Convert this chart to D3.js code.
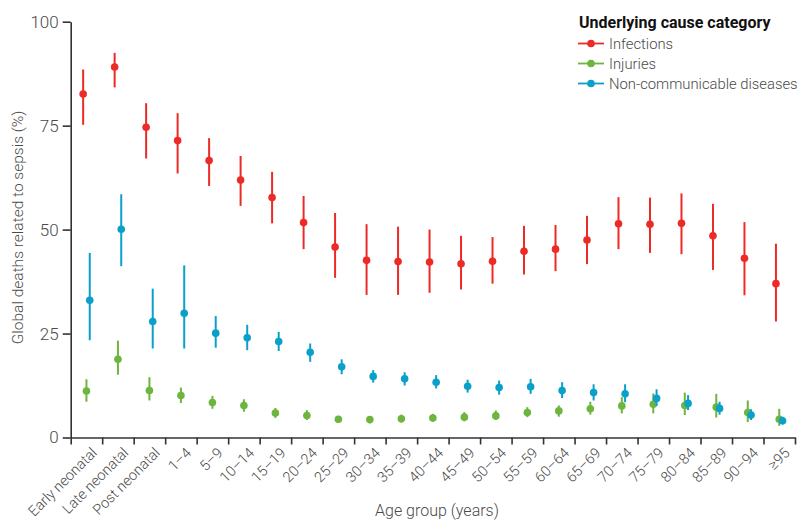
<!DOCTYPE html>
<html>
<head>
<meta charset="utf-8">
<script src="https://cdn.jsdelivr.net/npm/d3@7"></script>
<style>
  body { margin: 0; background: #fff; }
  svg text { font-family: "Roboto", "Liberation Sans", sans-serif; fill: #4a4a4a; }
  .axis path, .axis line { stroke: #333; stroke-width: 1.6; }
</style>
</head>
<body>
<div id="chart"></div>
<script>
const ageGroups = ["Early neonatal", "Late neonatal", "Post neonatal", "1–4", "5–9", "10–14", "15–19", "20–24",
  "25–29", "30–34", "35–39", "40–44", "45–49", "50–54", "55–59", "60–64", "65–69", "70–74", "75–79",
  "80–84", "85–89", "90–94", "≥95"];

// [estimate, lower, upper]
const infections = [
  [82.6, 75.2, 88.5], [89.1, 84.2, 92.5], [74.6, 67.1, 80.4], [71.4, 63.5, 78.0], [66.6, 60.5, 72.0],
  [61.9, 55.7, 67.7], [57.7, 51.5, 63.9], [51.7, 45.3, 58.1], [45.8, 38.4, 54.0], [42.6, 34.3, 51.3],
  [42.3, 34.3, 50.7], [42.2, 34.8, 50.0], [41.8, 35.6, 48.5], [42.4, 37.0, 48.2], [44.8, 39.2, 50.9],
  [45.3, 40.0, 51.1], [47.5, 41.7, 53.3], [51.4, 45.3, 57.8], [51.3, 44.4, 57.7], [51.5, 44.1, 58.7],
  [48.5, 40.3, 56.2], [43.1, 34.2, 51.8], [37.0, 27.9, 46.6]
];
const injuries = [
  [11.2, 8.6, 14.0], [18.8, 15.1, 23.3], [11.3, 8.9, 14.5], [10.1, 8.3, 12.0], [8.4, 6.9, 10.0],
  [7.7, 6.2, 9.2], [5.9, 4.7, 7.1], [5.3, 4.2, 6.6], [4.4, 3.5, 5.2], [4.3, 3.4, 5.1],
  [4.5, 3.6, 5.5], [4.7, 3.8, 5.7], [4.9, 3.9, 6.1], [5.2, 4.2, 6.5], [6.0, 4.9, 7.3],
  [6.4, 5.0, 7.7], [6.9, 5.5, 8.6], [7.6, 5.8, 9.7], [8.0, 5.8, 10.6], [7.7, 5.4, 10.8],
  [7.3, 4.8, 10.5], [6.0, 3.7, 8.9], [4.4, 2.8, 6.9]
];
const ncd = [
  [33.0, 23.4, 44.4], [50.1, 41.2, 58.5], [27.9, 21.4, 35.8], [29.9, 21.4, 41.4], [25.1, 21.6, 29.2],
  [24.0, 21.0, 27.1], [23.1, 20.8, 25.4], [20.5, 18.2, 22.6], [17.0, 15.2, 18.8], [14.7, 13.2, 16.2],
  [14.1, 12.5, 15.7], [13.3, 11.8, 15.0], [12.3, 10.8, 13.9], [12.0, 10.3, 13.7], [12.2, 10.5, 14.1],
  [11.3, 9.5, 13.3], [10.8, 8.9, 12.8], [10.5, 8.5, 12.8], [9.4, 7.6, 11.6], [8.2, 6.6, 10.2],
  [7.0, 5.5, 8.6], [5.4, 4.2, 6.8], [4.0, 3.2, 5.0]
];
const seriesNames = ["Infections", "Injuries", "Non-communicable diseases"];
const seriesColors = ["#ec2a26", "#6db53f", "#0aa0ca"];
const yTicks = [0, 25, 50, 75, 100];

const W = 799, H = 520;
const margin = { top: 21.7, right: 4, bottom: 82.5, left: 70.7 };
const height = H - margin.top - margin.bottom;
const plotW = 795 - margin.left;

const svg = d3.select("#chart").append("svg")
    .attr("width", W)
    .attr("height", H)
  .append("g")
    .attr("transform", `translate(${margin.left}, ${margin.top})`);

const x = d3.scaleBand().domain(ageGroups).range([0, plotW]);
const xEdge = d3.scaleLinear().domain([0, ageGroups.length]).range([0, plotW]);
const y = d3.scaleLinear().domain([0, 100]).range([height, 0]);
const dodge = d3.scalePoint().domain(seriesNames).range([-3.3, 3.3]);

// y axis
svg.append("g")
    .attr("class", "axis")
    .call(d3.axisLeft(y).tickValues(yTicks).tickSize(8).tickSizeOuter(0).tickPadding(4))
    .call(g => g.selectAll("text").style("font-size", "17px").style("font-weight", 300));

// x axis: ticks sit on band edges
svg.append("g")
    .attr("class", "axis")
    .attr("transform", `translate(0, ${height})`)
    .call(d3.axisBottom(xEdge).tickValues(d3.range(ageGroups.length + 1)).tickFormat("").tickSize(7).tickSizeOuter(0));

// x labels at band centres
svg.append("g")
    .attr("class", "axis xlabels")
    .attr("transform", `translate(0, ${height})`)
    .call(d3.axisBottom(x).tickSize(0).tickSizeOuter(0))
    .call(g => g.select(".domain").remove())
    .selectAll("text")
      .style("font-size", "14.5px")
      .style("font-weight", 300)
      .style("text-anchor", "end")
      .attr("x", -3.5)
      .attr("y", 19.5)
      .attr("dy", 0)
      .attr("transform", "rotate(-45)");

svg.append("text")
    .attr("x", 437 - margin.left)
    .attr("y", 516 - margin.top)
    .attr("text-anchor", "middle")
    .style("font-size", "16px")
    .style("font-weight", 300)
    .text("Age group (years)");

svg.append("text")
    .attr("transform", "rotate(-90)")
    .attr("x", -(227.5 - margin.top))
    .attr("y", 23 - margin.left)
    .attr("text-anchor", "middle")
    .style("font-size", "15.5px")
    .style("font-weight", 300)
    .text("Global deaths related to sepsis (%)");

// error bars + points
const allSeries = [infections, injuries, ncd];
allSeries.forEach((vals, si) => {
  const name = seriesNames[si];
  const g = svg.append("g").attr("class", "series");
  const cx = (d, i) => x(ageGroups[i]) + x.bandwidth() / 2 + dodge(name);
  g.selectAll("line")
    .data(vals)
    .join("line")
      .attr("x1", cx)
      .attr("x2", cx)
      .attr("y1", d => y(d[1]))
      .attr("y2", d => y(d[2]))
      .attr("stroke", seriesColors[si])
      .attr("stroke-width", 2);
  g.selectAll("circle")
    .data(vals)
    .join("circle")
      .attr("cx", cx)
      .attr("cy", d => y(d[0]))
      .attr("r", 3.8)
      .attr("fill", seriesColors[si]);
});

// legend
const legend = svg.append("g")
    .attr("transform", `translate(${578 - margin.left}, ${28 - margin.top})`);

legend.append("text")
    .attr("x", 1)
    .attr("y", 0)
    .style("font-size", "16px")
    .style("font-weight", "bold")
    .style("fill", "#111")
    .text("Underlying cause category");

const items = legend.selectAll(".legend")
  .data(seriesNames)
  .join("g")
    .attr("class", "legend")
    .attr("transform", (d, i) => `translate(0, ${15.5 + i * 20})`);

items.append("line")
    .attr("x1", 0).attr("x2", 26)
    .attr("stroke", (d, i) => seriesColors[i])
    .attr("stroke-width", 1.8);

items.append("circle")
    .attr("cx", 13)
    .attr("r", 3.8)
    .attr("fill", (d, i) => seriesColors[i]);

items.append("text")
    .attr("x", 31)
    .attr("dy", "0.35em")
    .style("font-size", "14.8px")
    .style("font-weight", 300)
    .text(d => d);
</script>
</body>
</html>
